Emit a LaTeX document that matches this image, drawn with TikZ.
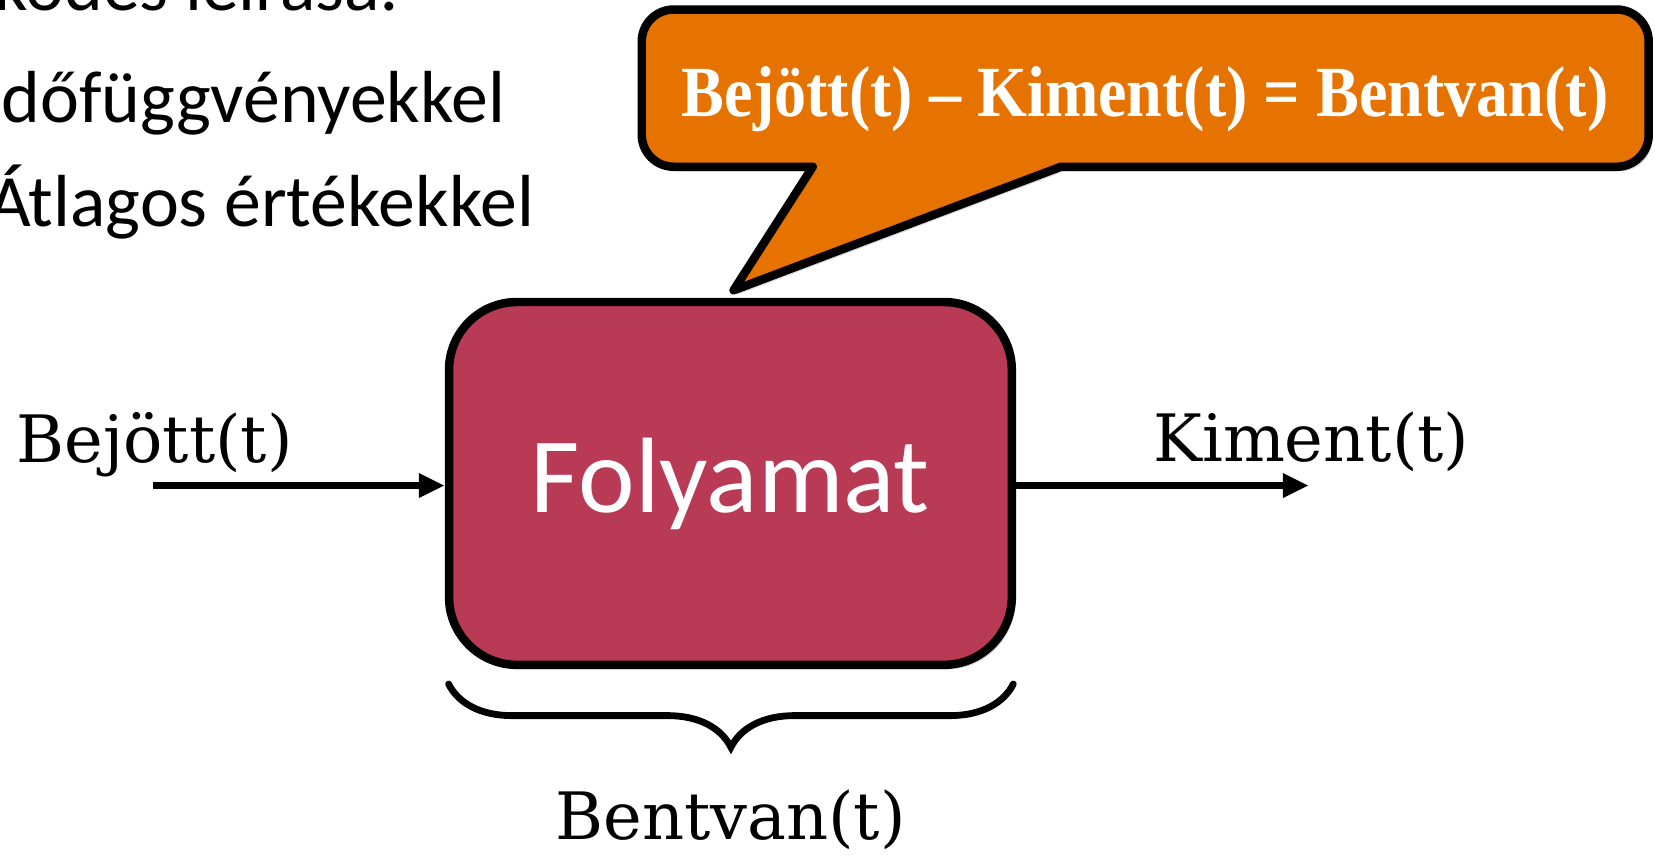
\documentclass[tikz,border=0pt]{standalone}
\usepackage{fontspec}
\setmainfont{DejaVu Serif}
\newfontfamily\calibri{Carlito}
\newfontfamily\timesbold{Liberation Serif Bold}
\usepackage{tikz}
\usetikzlibrary{positioning}
\usetikzlibrary{calc}
\usetikzlibrary{arrows.meta}
\usetikzlibrary{shadows}
\usetikzlibrary{decorations.pathreplacing}
\definecolor{Crimson}{RGB}{185, 58, 85}
\definecolor{Pumpkin}{RGB}{230, 115, 0}

\tikzset{
  procbox/.style={draw, line width=0.085cm, fill=Crimson, rounded corners=0.68cm,
    minimum width=5.63cm, minimum height=3.63cm, text=white,
    font=\calibri\fontsize{30.5}{34}\selectfont,
    drop shadow={shadow xshift=0.035cm, shadow yshift=-0.045cm, opacity=0.3}},
  callout/.style={draw, line width=0.085cm, fill=Pumpkin, line join=round,
    drop shadow={shadow xshift=0.035cm, shadow yshift=-0.045cm, opacity=0.3}},
  flow/.style={line width=0.065cm, ->},
  lbl/.style={font=\fontsize{18.6}{21}\selectfont, inner sep=0pt},
  bullettxt/.style={font=\calibri\fontsize{21}{25}\selectfont, inner sep=0pt, anchor=base west},
  bracedeco/.style={line width=0.068cm, line cap=round,
    decorate, decoration={brace, amplitude=0.633cm}},
}

\begin{document}
\begin{tikzpicture}[>={Triangle[length=0.26cm, width=0.23cm]}, x=0.010555cm, y=-0.010555cm]
\useasboundingbox (0,0) rectangle (1568,813);
\clip (0,0) rectangle (1568,813);

% text of the slide, cut by the picture edge
\node[bullettxt] (line1) at (-6,10) {ködés leírása:};
\node[bullettxt] (line2) at (1,116) {dőfüggvényekkel};
\node[bullettxt] (line3) at (-12,215) {Átlagos értékekkel};

% callout with the balance
\draw[callout] (1100,9) [rounded corners=0.32cm] -- (608,9) -- (608,158) -- (720,158)
  [sharp corners] -- (770,158) -- (695,275) -- (1005,158) -- (1100,158)
  [rounded corners=0.32cm] -- (1562,158) -- (1562,9) -- cycle;
\node[anchor=base, text=white, inner sep=0pt] (balance) at (1085,110)
  {\scalebox{0.89}[1]{\timesbold\fontsize{20.5}{24}\selectfont Bejött(t) – Kiment(t) = Bentvan(t)}};

% the process
\node[procbox] (proc) at (692,458) {Folyamat};

\coordinate (in) at (145,460);
\coordinate (out) at (1240,460);
\draw[flow] (in) -- (in -| proc.west);
\draw[flow] (out -| proc.east) -- (out);

\node[lbl, anchor=base west] (bejott) at (15,438) {Bejött(t)};
\node[lbl, anchor=base west] (kiment) at (1092,437) {Kiment(t)};

% brace below
\coordinate (bre) at (960,648);
\coordinate (brw) at (425,648);
\draw[bracedeco] (bre) -- (brw);
\node[lbl, anchor=base] (bentvan) at (692,795) {Bentvan(t)};

\end{tikzpicture}
\end{document}
